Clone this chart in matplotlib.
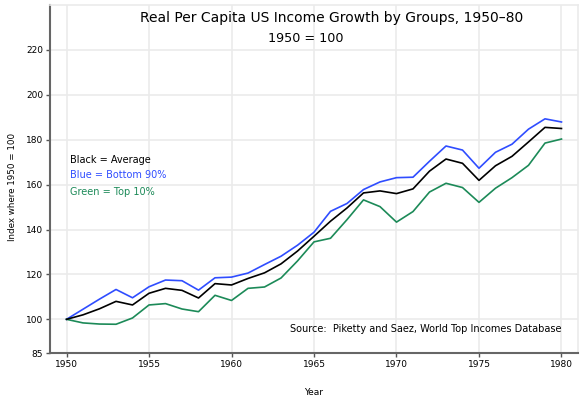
import matplotlib
matplotlib.use("Agg")
import matplotlib.pyplot as plt

# Data (index, 1950 = 100)
years = list(range(1950, 1981))
average = [100.0, 102.0, 104.7, 108.0, 106.4, 111.6, 113.8, 112.9, 109.5, 115.9,
           115.3, 118.2, 120.7, 124.7, 130.4, 137.0, 143.7, 149.6, 156.3, 157.2,
           156.0, 158.1, 166.0, 171.4, 169.5, 161.9, 168.4, 172.6, 179.0, 185.5,
           185.0]
bottom90 = [100.0, 104.5, 109.0, 113.3, 109.6, 114.5, 117.5, 117.2, 113.0, 118.5,
            118.8, 120.6, 124.4, 128.1, 133.0, 138.8, 148.1, 151.6, 157.8, 161.2,
            163.1, 163.3, 170.4, 177.2, 175.4, 167.3, 174.4, 178.0, 184.7, 189.3,
            187.9]
top10 = [100.0, 98.4, 97.9, 97.8, 100.6, 106.4, 107.0, 104.6, 103.4, 110.7,
         108.4, 113.8, 114.4, 118.4, 126.0, 134.5, 136.1, 144.4, 153.2, 150.2,
         143.3, 148.0, 156.7, 160.6, 158.7, 152.1, 158.4, 163.1, 168.6, 178.5,
         180.3]

xticks = [1950, 1955, 1960, 1965, 1970, 1975, 1980]
yticks = [85, 100, 120, 140, 160, 180, 200, 220]

fig = plt.figure(figsize=(5.83, 4.01), dpi=100)
ax = fig.add_axes([0.0858, 0.1197, 0.9056, 0.8678])

ax.plot(years, bottom90, color="#2f4dff", lw=1.2)
ax.plot(years, top10, color="#1c8a58", lw=1.2)
ax.plot(years, average, color="black", lw=1.2)

ax.set_xlim(1949, 1981)
ax.set_ylim(85, 240)
ax.set_xticks(xticks)
ax.set_yticks(yticks)
ax.tick_params(labelsize=6.5, length=3, width=1, color="#555555", pad=2)

# light grid, skipping the 85 line
for y in yticks[1:]:
    ax.axhline(y, color="#ebebeb", lw=1.2, zorder=0)
for x in xticks:
    ax.axvline(x, color="#ebebeb", lw=1.2, zorder=0)

for side in ["top", "right"]:
    ax.spines[side].set_color("#ebebeb")
    ax.spines[side].set_linewidth(1.2)
for side in ["left", "bottom"]:
    ax.spines[side].set_color("#666666")
    ax.spines[side].set_linewidth(1.5)

ax.set_xlabel("Year", fontsize=6.5, labelpad=14)
ax.set_ylabel("Index where 1950 = 100", fontsize=6.3)
ax.yaxis.set_label_coords(-0.062, 0.478)

fig.text(332 / 583, 1 - 18 / 401, "Real Per Capita US Income Growth by Groups, 1950\u201380",
         ha="center", va="center", fontsize=10)
fig.text(306 / 583, 1 - 39 / 401, "1950 = 100", ha="center", va="center", fontsize=9.2)

ax.text(1950.2, 171.1, "Black = Average", color="black", fontsize=7, va="center")
ax.text(1950.2, 164.1, "Blue = Bottom 90%", color="#2f4dff", fontsize=7, va="center")
ax.text(1950.2, 156.9, "Green = Top 10%", color="#1c8a58", fontsize=7, va="center")

ax.text(1980, 95.5, "Source:  Piketty and Saez, World Top Incomes Database",
        ha="right", va="center", fontsize=7)

fig.savefig("out.png", dpi=100)
